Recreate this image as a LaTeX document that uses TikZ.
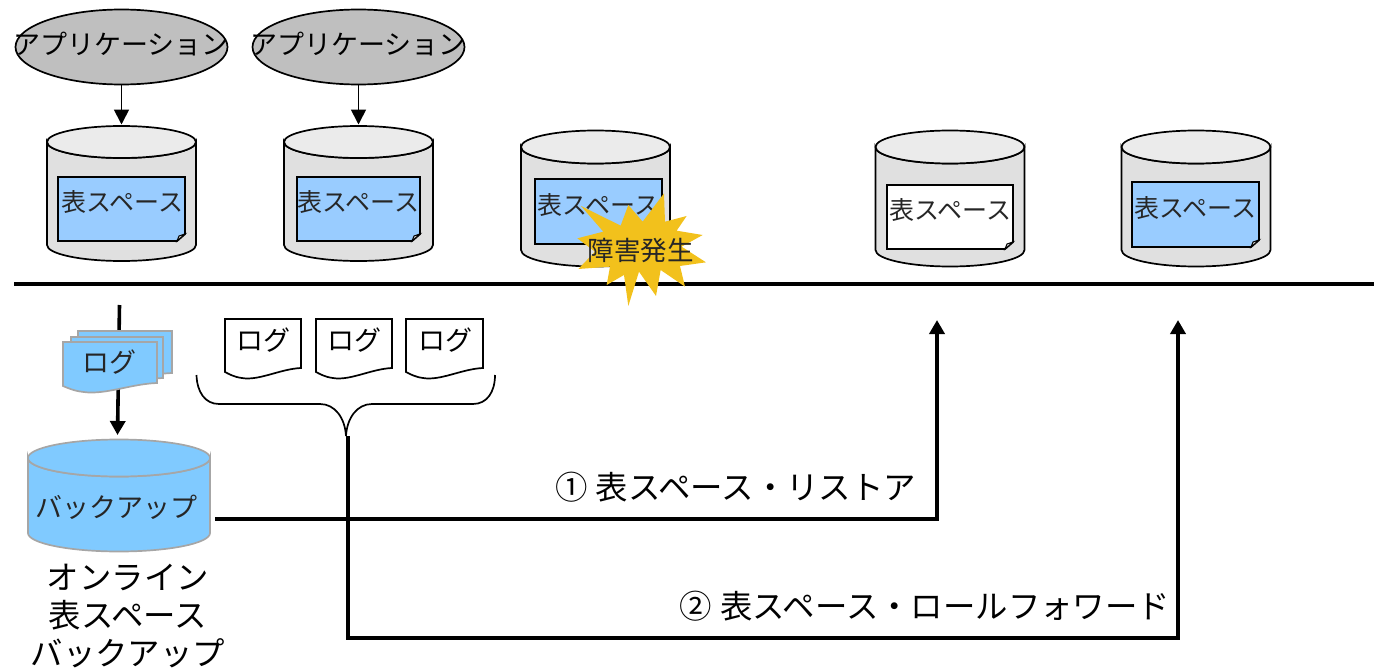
\documentclass[tikz,border=0pt]{standalone}
\usepackage{fontspec}
\setmainfont{Noto Sans CJK JP}
\usetikzlibrary{arrows.meta,shapes.geometric}
\definecolor{appgray}{HTML}{BFBFBF}
\definecolor{cylside}{HTML}{E0E0E0}
\definecolor{cyltop}{HTML}{EBEBEB}
\definecolor{sheetblue}{HTML}{99CCFF}
\definecolor{bkblue}{HTML}{80CAFF}
\definecolor{bkedge}{HTML}{A6A6A6}
\definecolor{burst}{HTML}{F2C11C}
\definecolor{softink}{HTML}{262626}
\tikzset{
  thinline/.style={draw=black,line width=1.7pt},
  heavyline/.style={draw=black,line width=3.6pt},
  mainline/.style={draw=black,line width=4pt},
  smallhead/.style={-{Triangle[width=15pt,length=15pt]},line width=1.8pt},
  bighead/.style={-{Triangle[width=15pt,length=14pt]}},
  appnode/.style={ellipse,draw=black,line width=1.7pt,fill=appgray,minimum width=212pt,minimum height=75pt,inner sep=0pt},
  holder/.style={inner sep=0pt,outer sep=0pt},
  lbl/.style={inner sep=0pt,outer sep=0pt,align=center},
  sheetlbl/.style={lbl,text=softink,font=\fontsize{25}{29}\selectfont},
  loglbl/.style={lbl,font=\fontsize{27}{31}\selectfont},
  biglbl/.style={lbl,font=\fontsize{32.4}{38}\selectfont},
}
% name, cx, ytop, rx, ry, body height, side colour, top colour, edge colour
\newcommand{\Cyl}[9]{%
  \path[draw=#9,line width=1.7pt,fill=#7]
    ({#2-#4},#3) -- ({#2-#4},{#3+#6}) arc[start angle=180,end angle=0,x radius=#4,y radius=#5]
    -- ({#2+#4},#3) arc[start angle=0,end angle=180,x radius=#4,y radius=#5] -- cycle;
  \path[draw=#9,line width=1.7pt,fill=#8] (#2,#3) ellipse[x radius=#4,y radius=#5];
  \node[holder,minimum width={2*#4 pt},minimum height={(#6+2*#5)*1pt}] (#1) at (#2,{#3+#6/2}) {};
}
% x1,y1,x2,y2,fill
\newcommand{\Sheet}[5]{%
  \path[thinline,line width=1.9pt,fill=#5] (#1,#2) -- (#3,#2) -- (#3,{#4-7}) -- ({#3-8},#4) -- (#1,#4) -- cycle;
  \path[draw=black,line width=1pt,fill=cylside] (#3,{#4-7}) -- ({#3-6},{#4-5}) -- ({#3-8},#4) -- cycle;
}
% x1,x2,ytop,yright,yleft, style opts
\newcommand{\WaveDoc}[6]{%
  \path[#6] (#1,#3) -- (#2,#3) -- (#2,#4) .. controls ({#1+0.72*(#2-#1)},{#4+1}) and ({#1+0.45*(#2-#1)},{#5+9}) .. ({#1+0.22*(#2-#1)},{#5+6})
    .. controls ({#1+0.12*(#2-#1)},{#5+5}) and ({#1+0.05*(#2-#1)},{#5+2}) .. (#1,#5) -- cycle;
}
\begin{document}
\begin{tikzpicture}[x=1pt,y=-1pt]
\useasboundingbox (0,0) rectangle (1374,669);
% main rule
\coordinate (ruleL) at (14,284);
\coordinate (ruleR) at (1374,284);
\draw[mainline] (ruleL) -- (ruleR);
% cylinders
\Cyl{c1}{121.5}{142}{74.5}{16}{103}{cylside}{cyltop}{black}
\Cyl{c2}{358.5}{142}{74.5}{16}{103}{cylside}{cyltop}{black}
\Cyl{c3}{595.5}{147}{74.5}{16.5}{103}{cylside}{cyltop}{black}
\Cyl{c4}{950}{147}{74.5}{16.5}{103}{cylside}{cyltop}{black}
\Cyl{c5}{1196}{147}{74.5}{16.5}{103}{cylside}{cyltop}{black}
% sheets
\Sheet{58}{177}{185}{241}{sheetblue}
\Sheet{297}{177}{420}{241}{sheetblue}
\Sheet{535}{179}{662}{244}{sheetblue}
\Sheet{887}{185}{1013}{249}{white}
\Sheet{1132}{182}{1259}{247}{sheetblue}
\node[sheetlbl] (s1) at (122,202) {表スペース};
\node[sheetlbl] (s2) at (358,202) {表スペース};
\node[sheetlbl] (s3) at (598,205) {表スペース};
\node[sheetlbl] (s4) at (950,210) {表スペース};
\node[sheetlbl] (s5) at (1195,208) {表スペース};
% applications
\node[appnode] (a1) at (121.5,47) {};
\node[appnode] (a2) at (358.5,47) {};
\node[loglbl] (a1t) at (121,44) {アプリケーション};
\node[loglbl] (a2t) at (358,44) {アプリケーション};
\draw[smallhead,shorten >=1.5pt] (a1.south) -- (c1.north);
\draw[smallhead,shorten >=1.5pt] (a2.south) -- (c2.north);
% burst
\begin{scope}[shift={(570,190)},x=0.3333pt,y=-0.3333pt]
\path[fill=burst] (33,48) -- (152,107) -- (175,45) -- (218,95) -- (282,10) -- (285,95) -- (350,78) -- (320,122) -- (398,135)
  -- (335,170) -- (408,217) -- (330,228) -- (345,290) -- (272,240) -- (258,318) -- (207,245) -- (175,348) -- (162,255)
  -- (110,285) -- (120,230) -- (25,237) -- (75,185) -- (22,145) -- (100,125) -- cycle;
\end{scope}
\node[lbl,text=softink,font=\fontsize{26.5}{30}\selectfont] (burstt) at (640.5,250) {障害発生};
% backup
\coordinate (logstart) at (119.5,305);
\coordinate (logend) at (117.5,435);
\Cyl{bk}{119}{458}{91}{18.5}{75}{bkblue}{bkblue}{bkedge}
\draw[heavyline,bighead] (logstart) -- (logend);
\WaveDoc{78}{172}{331}{373}{376}{draw=bkedge,line width=1.7pt,fill=bkblue}
\WaveDoc{71}{163}{337}{378}{381}{draw=bkedge,line width=1.7pt,fill=bkblue}
\WaveDoc{63}{157}{342}{383}{386}{draw=bkedge,line width=1.7pt,fill=bkblue}
\node[loglbl,text=softink] (logt) at (109,362) {ログ};
\node[loglbl,text=softink] (bkt) at (116,507) {バックアップ};
\node[biglbl] (bkcap) at (128,616) {オンライン\\表スペース\\バックアップ};
% white logs
\WaveDoc{225}{301}{319}{368}{372}{thinline,fill=white}
\WaveDoc{316}{392}{319}{368}{372}{thinline,fill=white}
\WaveDoc{406}{483}{319}{368}{372}{thinline,fill=white}
\node[loglbl] (l1) at (263,340) {ログ};
\node[loglbl] (l2) at (354,340) {ログ};
\node[loglbl] (l3) at (445,340) {ログ};
% brace
\coordinate (braceTip) at (346,436);
\coordinate (braceL) at (196.5,375);
\coordinate (braceR) at (495,375);
\draw[thinline] (braceL) .. controls (197,392) and (205,404) .. (219,404) -- (320,404)
   .. controls (335,404) and (345,418) .. (braceTip)
   .. controls (347,418) and (357,404) .. (372,404) -- (473,404) .. controls (487,404) and (495,392) .. (braceR);
% restore / roll forward connectors
\coordinate (restoreStart) at (215,519);
\coordinate (restoreEnd) at (937,320);
\coordinate (rfStart) at (348,436);
\coordinate (rfEnd) at (1178,320);
\draw[heavyline,bighead,line join=miter] (restoreStart) -- (restoreEnd |- restoreStart) -- (restoreEnd);
\draw[heavyline,bighead,line join=miter] (rfStart) -- (348,638) -- (1178,638) -- (rfEnd);
\node[biglbl,anchor=east] (t1) at (916,487) {①\hspace{8pt}表スペース・リストア};
\node[biglbl,anchor=east] (t2) at (1170,606) {②\hspace{8pt}表スペース・ロールフォワード};
\end{tikzpicture}
\end{document}
